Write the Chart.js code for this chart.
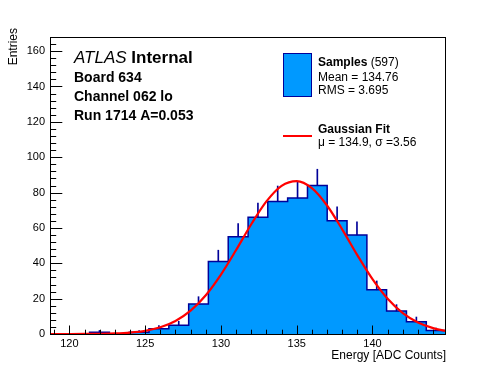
<!DOCTYPE html>
<html>
<head>
<meta charset="utf-8">
<script src="https://cdn.jsdelivr.net/npm/chart.js@4/dist/chart.umd.min.js"></script>
<style>
body{margin:0;background:#fff;}
canvas{display:block;}
</style>
</head>
<body>
<canvas id="c" width="496" height="372" style="width:496px;height:372px"></canvas>
<script>
// -- histogram data (ADC counts), 20 bins
const binEdges = [118.72,120.03,121.33,122.64,123.95,125.25,126.56,127.87,129.17,130.48,131.79,
                  133.09,134.40,135.71,137.01,138.32,139.63,140.93,142.24,143.55,144.85];
const counts   = [0,0,1,0,1,3,5,17,41,55,66,75,77,84,64,56,25,13,7,2];
const errors   = [0,0,1,0,1,1.7,2.2,4.1,6.4,7.4,8.1,8.7,8.8,9.2,8,7.5,5,3.6,2.6,1.4];
// -- gaussian fit curve
const fitX = [118.72,120,121,122,123,124,125,126,127,128,129,130,131,132,133,134,135,136,137,138,139,140,141,142,143,144,144.85];
const fitY = [0,0.01,0.04,0.12,0.32,0.8,1.8,3.8,7.4,13.2,21.9,33.6,47.5,62.1,75.0,83.8,86.5,82.5,72.7,59.2,44.6,31.0,19.9,11.8,6.5,3.3,1.7];
// -- axes
const xTicks = [120,125,130,135,140];
const yTicks = [0,20,40,60,80,100,120,140,160];
const xRange = [118.72,144.85], yRange = [0,168];

const FONT = "'Liberation Sans', Arial, Helvetica, sans-serif";
const BLUE = "#0099ff", NAVY = "#000099";

// step outline: first point carries bin 0, each later edge closes the bin before it
let stepPts = binEdges.map((e,i)=>({x:e, y:counts[Math.max(0,i-1)]}));
let errBars = counts.map((c,i)=>({x:(binEdges[i]+binEdges[i+1])/2, y:[c, c+errors[i]]})).filter(p=>p.y[1]>p.y[0]);

// frame, inward ticks (ROOT style) and all the free text
const rootDeco = {
  id:'rootDeco',
  afterDraw(chart){
    const {ctx, chartArea:a, scales:{x,y}} = chart;
    ctx.save();
    ctx.strokeStyle='#000'; ctx.lineWidth=1;
    ctx.strokeRect(a.left+0.5, a.top+0.5, a.right-a.left-1, a.bottom-a.top);
    ctx.beginPath();
    for(let v=119; v<=144; v++){
      let px=Math.round(x.getPixelForValue(v))+0.5;
      let len = xTicks.includes(v) ? 8.5 : 4.3;
      ctx.moveTo(px,a.bottom); ctx.lineTo(px,a.bottom-len);
    }
    for(let v=0; v<=yRange[1]; v+=4){
      let py=Math.round(y.getPixelForValue(v))+0.5;
      let len = yTicks.includes(v) ? 12.3 : 6.2;
      ctx.moveTo(a.left,py); ctx.lineTo(a.left+len,py);
    }
    ctx.stroke();

    ctx.fillStyle='#000'; ctx.textBaseline='alphabetic';
    // axis titles
    ctx.font='12px '+FONT; ctx.textAlign='right';
    ctx.fillText('Energy [ADC Counts]', 446, 359);
    ctx.save(); ctx.translate(16.5, 28); ctx.rotate(-Math.PI/2);
    ctx.fillText('Entries', 0, 0); ctx.restore();

    // ATLAS label block
    ctx.textAlign='left';
    ctx.font='italic 17px '+FONT; ctx.fillText('ATLAS', 74, 63);
    let w=ctx.measureText('ATLAS ').width;
    ctx.font='bold 17px '+FONT; ctx.fillText('Internal', 74+w, 63);
    ctx.font='bold 14px '+FONT;
    ctx.fillText('Board 634', 74, 82);
    ctx.fillText('Channel 062 lo', 74, 101);
    ctx.fillText('Run 1714 A=0.053', 74, 120);

    // legend
    ctx.fillStyle=BLUE; ctx.fillRect(283.5,53.5,28,43);
    ctx.strokeStyle=NAVY; ctx.strokeRect(283.5,53.5,28,43);
    ctx.fillStyle='#000';
    ctx.font='bold 12px '+FONT; ctx.fillText('Samples', 318, 66);
    w=ctx.measureText('Samples ').width;
    ctx.font='12px '+FONT; ctx.fillText('(597)', 318+w, 66);
    ctx.fillText('Mean = 134.76', 318, 80.5);
    ctx.fillText('RMS = 3.695', 318, 93.5);
    ctx.strokeStyle='#ff0000'; ctx.lineWidth=2;
    ctx.beginPath(); ctx.moveTo(283,136); ctx.lineTo(312,136); ctx.stroke();
    ctx.font='bold 12px '+FONT; ctx.fillText('Gaussian Fit', 318, 132.5);
    ctx.font='12px '+FONT; ctx.fillText('\u03bc = 134.9, \u03c3 =3.56', 318, 145.5);
    ctx.restore();
  }
};

new Chart(document.getElementById('c'), {
  data:{datasets:[
    {type:'line', data:stepPts, stepped:'after', fill:'origin', backgroundColor:BLUE,
     borderColor:NAVY, borderWidth:1.5, pointRadius:0, order:3},
    {type:'bar', data:errBars, backgroundColor:NAVY, barThickness:1, grouped:false, order:2},
    {type:'line', data:fitX.map((v,i)=>({x:v,y:fitY[i]})), borderColor:'#ff0000', borderWidth:2.2,
     pointRadius:0, cubicInterpolationMode:'monotone', fill:false, order:1}
  ]},
  options:{
    responsive:false, animation:false, devicePixelRatio:1,
    layout:{padding:{left:0, top:37, right:50, bottom:0}},
    plugins:{legend:{display:false}, tooltip:{enabled:false}},
    scales:{
      x:{type:'linear', min:xRange[0], max:xRange[1], offset:false,
         afterBuildTicks:s=>{ s.ticks = xTicks.map(v=>({value:v})); },
         afterFit:s=>{ s.height = 38; },
         grid:{display:false, drawTicks:false}, border:{display:false},
         ticks:{padding:3, color:'#000', font:{family:FONT, size:11}, maxRotation:0}},
      y:{type:'linear', min:yRange[0], max:yRange[1],
         afterBuildTicks:s=>{ s.ticks = yTicks.map(v=>({value:v})); },
         afterFit:s=>{ s.width = 50; },
         grid:{display:false, drawTicks:false}, border:{display:false},
         ticks:{padding:5, color:'#000', font:{family:FONT, size:11}}}
    }
  },
  plugins:[rootDeco]
});
</script>
</body>
</html>
